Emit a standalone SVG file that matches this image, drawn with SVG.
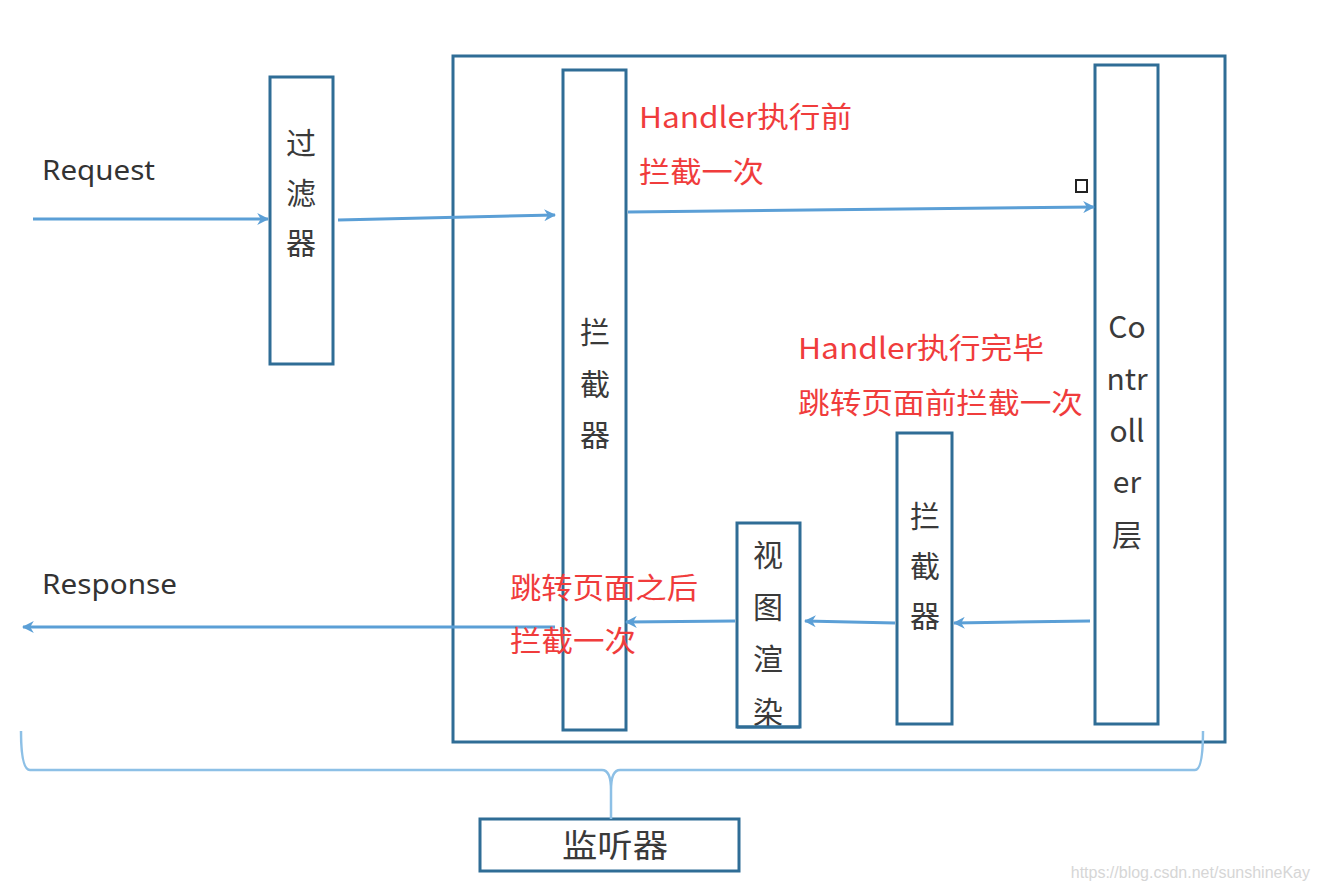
<svg xmlns="http://www.w3.org/2000/svg" width="1319" height="889" viewBox="0 0 1319 889">
<style>
.box{fill:#fff;stroke:#2f6d96;stroke-width:3}
.lbl{font-family:"Noto Sans CJK SC","Noto Sans",sans-serif;font-size:30px;fill:#3a3a3a;text-anchor:middle}
.red{font-family:"Noto Sans CJK SC","Noto Sans",sans-serif;font-size:29px;fill:#f03c3c}
.io{font-family:"Noto Sans","Noto Sans CJK SC",sans-serif;font-size:27px;fill:#333}
.conn{fill:none;stroke:#5b9fd6;stroke-width:3}
.brace{fill:none;stroke:#8dc0e6;stroke-width:2.5}
</style>
<defs>
<marker id="ah" viewBox="0 0 10 10" refX="9" refY="5" markerWidth="4" markerHeight="4" orient="auto">
<path d="M0,0 L10,5 L0,10 L3,5 z" fill="#5b9fd6"/>
</marker>
</defs>
<rect width="1319" height="889" fill="#fff"/>
<g id="container"><rect class="box" x="453" y="56" width="772" height="686" fill="none"/></g>
<g id="filter"><rect class="box" x="270" y="77" width="63" height="287"/>
<text class="lbl" x="301" y="154">过</text><text class="lbl" x="301" y="204">滤</text><text class="lbl" x="301" y="254">器</text></g>
<g id="interceptor1"><rect class="box" x="563" y="70" width="63" height="660"/>
<text class="lbl" x="595" y="343">拦</text><text class="lbl" x="595" y="395">截</text><text class="lbl" x="595" y="446">器</text></g>
<g id="controller"><rect class="box" x="1095" y="65" width="63" height="659"/>
<text class="lbl" x="1127" y="338">Co</text><text class="lbl" x="1127" y="390">ntr</text><text class="lbl" x="1127" y="442">oll</text><text class="lbl" x="1127" y="493">er</text><text class="lbl" x="1127" y="546">层</text></g>
<g id="interceptor2"><rect class="box" x="897" y="433" width="55" height="291"/>
<text class="lbl" x="925" y="527">拦</text><text class="lbl" x="925" y="577">截</text><text class="lbl" x="925" y="627">器</text></g>
<g id="view"><rect class="box" x="737" y="523" width="63" height="204"/>
<text class="lbl" x="768" y="566">视</text><text class="lbl" x="768" y="618">图</text><text class="lbl" x="768" y="670">渲</text><text class="lbl" x="768" y="723">染</text>
<line x1="737" y1="727" x2="800" y2="727" stroke="#2f6d96" stroke-width="3"/></g>
<g id="listener"><rect class="box" x="480" y="819" width="259" height="52"/>
<text class="lbl" x="615" y="857" style="font-size:32px" textLength="106" lengthAdjust="spacingAndGlyphs">监听器</text></g>
<g id="connectors">
<line class="conn" x1="33" y1="219" x2="268" y2="219" marker-end="url(#ah)"/>
<line class="conn" x1="338" y1="220" x2="555" y2="215" marker-end="url(#ah)"/>
<line class="conn" x1="628" y1="212" x2="1094" y2="207" marker-end="url(#ah)"/>
<line class="conn" x1="1090" y1="621" x2="954" y2="623" marker-end="url(#ah)"/>
<line class="conn" x1="895" y1="623" x2="805" y2="621" marker-end="url(#ah)"/>
<line class="conn" x1="735" y1="621" x2="626" y2="622" marker-end="url(#ah)"/>
<line class="conn" x1="555" y1="627" x2="23" y2="627" marker-end="url(#ah)"/>
<path class="brace" d="M21,731 Q21,770 30,770 L602,770 Q611,770 611,790 L611,819 M611,790 Q611,770 620,770 L1195,770 Q1203,770 1203,731"/>
</g>
<g id="labels">
<text class="io" x="42" y="180" textLength="113" lengthAdjust="spacingAndGlyphs">Request</text>
<text class="io" x="42" y="594" textLength="135" lengthAdjust="spacingAndGlyphs">Response</text>
<text class="red" x="639" y="128" textLength="213" lengthAdjust="spacingAndGlyphs">Handler执行前</text>
<text class="red" x="639" y="183" textLength="125" lengthAdjust="spacingAndGlyphs">拦截一次</text>
<text class="red" x="798" y="359" textLength="246" lengthAdjust="spacingAndGlyphs">Handler执行完毕</text>
<text class="red" x="798" y="414" textLength="285" lengthAdjust="spacingAndGlyphs">跳转页面前拦截一次</text>
<text class="red" x="510" y="599" textLength="188" lengthAdjust="spacingAndGlyphs">跳转页面之后</text>
<text class="red" x="510" y="652" textLength="126" lengthAdjust="spacingAndGlyphs">拦截一次</text>
</g>
<rect x="1076" y="180" width="11" height="12" fill="#fff" stroke="#222" stroke-width="2"/>
<text x="1310" y="878" text-anchor="end" font-family="'Liberation Sans',sans-serif" font-size="16" fill="#d6d6d6">https://blog.csdn.net/sunshineKay</text>
</svg>
